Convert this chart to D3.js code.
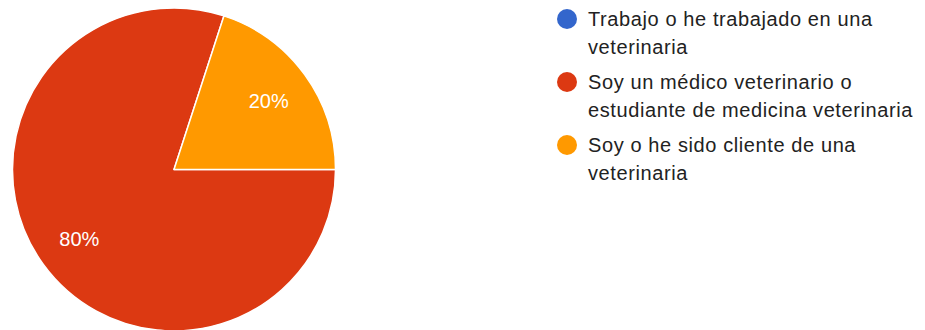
<!DOCTYPE html>
<html>
<head>
<meta charset="utf-8">
<script src="https://cdn.jsdelivr.net/npm/d3@7"></script>
<style>
  html, body { margin: 0; padding: 0; background: #fff; }
  svg { display: block; }
  text { font-family: "Liberation Sans", Arial, Helvetica, sans-serif; }
</style>
</head>
<body>
<svg id="chart" width="925" height="330"></svg>
<script>
const categories = [
  "Trabajo o he trabajado en una veterinaria",
  "Soy un médico veterinario o estudiante de medicina veterinaria",
  "Soy o he sido cliente de una veterinaria"
];
const legendLines = [
  ["Trabajo o he trabajado en una", "veterinaria"],
  ["Soy un médico veterinario o", "estudiante de medicina veterinaria"],
  ["Soy o he sido cliente de una", "veterinaria"]
];
const values = [0, 80, 20];
const colors = ["#3366cc", "#dc3912", "#ff9900"];

const svg = d3.select("#chart");
const cx = 174, cy = 169.5, r = 161.5;

const data = categories.map((c, i) => ({ name: c, value: values[i], color: colors[i], lines: legendLines[i] }));

const pie = d3.pie().value(d => d.value).sort(null)
  .startAngle(Math.PI / 2).endAngle(Math.PI / 2 + 2 * Math.PI);
const arcs = pie(data);
const arc = d3.arc().innerRadius(0).outerRadius(r);
const labelArc = d3.arc().innerRadius(r * 0.725).outerRadius(r * 0.725);

const g = svg.append("g").attr("transform", `translate(${cx},${cy})`);
g.selectAll("path").data(arcs.filter(d => d.data.value > 0)).join("path")
  .attr("d", arc)
  .attr("fill", d => d.data.color)
  .attr("stroke", "#fff")
  .attr("stroke-width", 1.5)
  .attr("stroke-linejoin", "round");

const total = d3.sum(values);
g.selectAll("text.lbl").data(arcs.filter(d => d.data.value > 0)).join("text")
  .attr("class", "lbl")
  .attr("transform", d => `translate(${labelArc.centroid(d)})`)
  .attr("text-anchor", "middle")
  .attr("dy", "0.36em")
  .attr("fill", "#fff")
  .attr("font-size", "20px")
  .text(d => Math.round(d.data.value / total * 100) + "%");

// Legend
const legendX = 567, legendY0 = 19, entryGap = 63, lineGap = 27.5;
const lg = svg.append("g");
const items = lg.selectAll("g").data(data).join("g")
  .attr("transform", (d, i) => `translate(${legendX},${legendY0 + i * entryGap})`);
items.append("circle").attr("r", 10).attr("fill", d => d.color);
items.append("text")
  .attr("x", 21)
  .attr("y", 7)
  .attr("fill", "#222")
  .attr("font-size", "20px")
  .attr("letter-spacing", "0.6px")
  .selectAll("tspan").data(d => d.lines).join("tspan")
  .attr("x", 21)
  .attr("dy", (d, i) => i === 0 ? 0 : lineGap)
  .text(d => d);
</script>
</body>
</html>
